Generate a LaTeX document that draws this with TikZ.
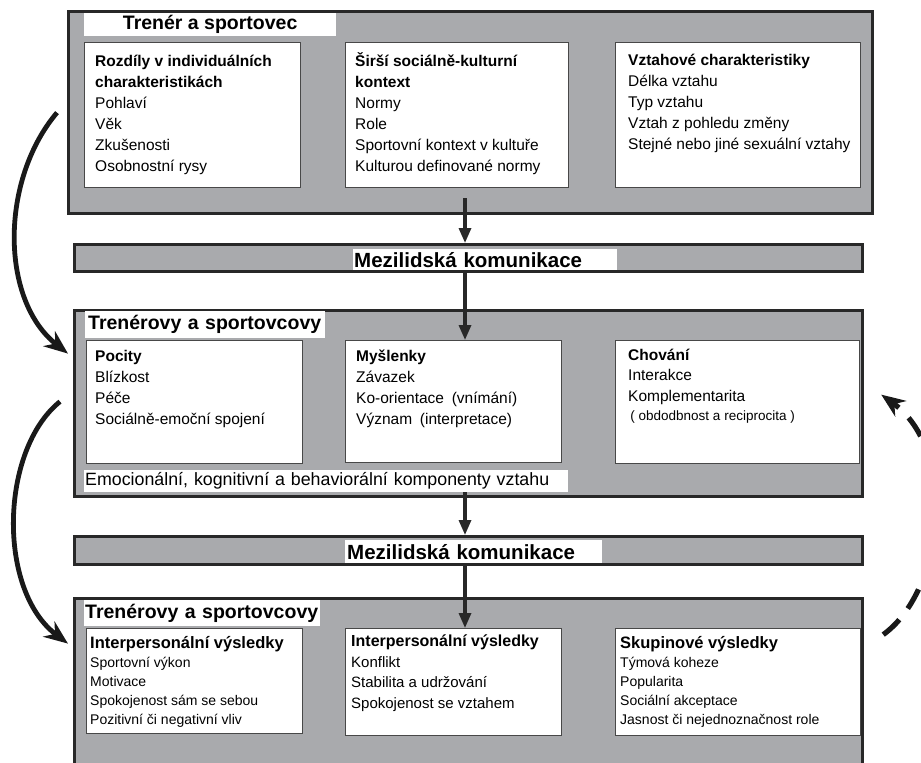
\documentclass[tikz,border=0pt]{standalone}
\usepackage{fontspec}
\setmainfont{Liberation Sans}
\usetikzlibrary{arrows.meta}
\definecolor{panelgray}{RGB}{169,170,173}
\definecolor{edgegray}{RGB}{40,40,40}
\tikzset{
  panel/.style={draw=edgegray, line width=3.2pt, fill=panelgray, anchor=north west, inner sep=0},
  inbox/.style={draw=edgegray!85, line width=1.4pt, fill=white, anchor=north west, inner sep=0},
  caption/.style={fill=white, anchor=north west, inner sep=1pt, font=\bfseries\fontsize{19.5}{22}\selectfont},
  barlabel/.style={fill=white, anchor=north west, inner sep=1pt, align=left, font=\bfseries\fontsize{20.5}{22}\selectfont},
  itemtext/.style={anchor=north west, inner sep=0, align=left},
  flow/.style={draw=edgegray, line width=3.2pt, -{Triangle[length=15pt,width=12pt]}},
  loopback/.style={draw=black!90, line width=4.8pt, -{Stealth[length=24pt,width=19pt]}},
  feedback/.style={draw=black!90, line width=5.2pt, dash pattern=on 22pt off 14pt, -{Stealth[length=24pt,width=19pt]}}
}
\begin{document}
\begin{tikzpicture}[x=1pt,y=-1pt]
\useasboundingbox (0,0) rectangle (921,763);

% panels
\node[panel, minimum width=804, minimum height=202] (trener) at (67,10) {};
\node[panel, minimum width=788, minimum height=27] (komA) at (73,243) {};
\node[panel, minimum width=788, minimum height=186] (vztahy) at (73,309) {};
\node[panel, minimum width=788, minimum height=28] (komB) at (73,535) {};
\node[panel, minimum width=788, minimum height=178] (vysledky) at (73,597) {};

% captions
\node[caption, minimum width=252, minimum height=23] (trenerT) at (84,13) {Trenér a sportovec};
\node[barlabel, text width=262, minimum height=21] (komAT) at (353,249) {Mezilidská komunikace};
\node[caption, text width=238, align=left, minimum height=27] (vztahyT) at (85,311) {\mbox{\kern2pt Trenérovy a sportovcovy}};
\node[itemtext, fill=white, inner sep=1pt, text width=482, minimum height=22, font=\fontsize{17.8}{20}\selectfont] (emoc) at (84,470) {Emocionální, kognitivní a behaviorální komponenty vztahu};
\node[barlabel, text width=255, minimum height=23] (komBT) at (345,540) {\kern1pt Mezilidská komunikace};
\node[caption, text width=234, align=left, minimum height=26] (vysledkyT) at (84,600) {\mbox{Trenérovy a sportovcovy}};

% top row
\node[inbox, minimum width=216, minimum height=145] (ind) at (84,42) {};
\node[inbox, minimum width=223, minimum height=145] (kontext) at (345,42) {};
\node[inbox, minimum width=245, minimum height=145] (vztah) at (615,42) {};
\node[itemtext, font=\fontsize{15.5}{21}\selectfont] (indT) at (95,51.3) {\strut\textbf{Rozdíly v individuálních}\\\textbf{charakteristikách}\\Pohlaví\\Věk\\Zkušenosti\\Osobnostní rysy};
\node[itemtext, font=\fontsize{15.5}{21}\selectfont] (kontextT) at (355,51.3) {\strut\textbf{Širší sociálně-kulturní}\\\textbf{kontext}\\Normy\\Role\\Sportovní kontext v kultuře\\Kulturou definované normy};
\node[itemtext, font=\fontsize{15.5}{21}\selectfont] (vztahT) at (628,50.3) {\strut\textbf{Vztahové charakteristiky}\\Délka vztahu\\Typ vztahu\\Vztah z pohledu změny\\Stejné nebo jiné sexuální vztahy};

% middle row
\node[inbox, minimum width=216, minimum height=123] (pocity) at (86,340) {};
\node[inbox, minimum width=216, minimum height=122] (mysl) at (345,340) {};
\node[inbox, minimum width=244, minimum height=123] (chovani) at (615,340) {};
\node[itemtext, font=\fontsize{15.5}{21}\selectfont] (pocityT) at (95,346.3) {\strut\textbf{Pocity}\\Blízkost\\Péče\\Sociálně-emoční spojení};
\node[itemtext, font=\fontsize{15.5}{21}\selectfont] (myslT) at (356,346.3) {\strut\textbf{Myšlenky}\\Závazek\\Ko-orientace\enspace(vnímání)\\Význam\enspace(interpretace)};
\node[itemtext, font=\fontsize{15.5}{20.5}\selectfont] (chovaniT) at (628,345.6) {\strut\textbf{Chování}\\Interakce\\Komplementarita\\[-1.5pt]{\fontsize{13.5}{15}\selectfont\,( obdodbnost a reciprocita )}};

% bottom row
\node[inbox, minimum width=216, minimum height=105] (osobni) at (86,628) {};
\node[inbox, minimum width=216, minimum height=107] (vztahove) at (345,628) {};
\node[inbox, minimum width=245, minimum height=107] (skupina) at (615,628) {};
\node[itemtext, font=\fontsize{14}{19}\selectfont] (osobniT) at (90,634.7) {\strut{\bfseries\fontsize{16.5}{19}\selectfont Interpersonální výsledky}\\Sportovní výkon\\Motivace\\Spokojenost sám se sebou\\Pozitivní či negativní vliv};
\node[itemtext, font=\fontsize{15}{20.5}\selectfont] (vztahoveT) at (351,632.3) {\strut{\bfseries\fontsize{16}{19}\selectfont Interpersonální výsledky}\\Konflikt\\Stabilita a udržování\\Spokojenost se vztahem};
\node[itemtext, font=\fontsize{14}{19}\selectfont] (skupinaT) at (620,635) {\strut{\bfseries\fontsize{16.5}{19}\selectfont Skupinové výsledky}\\Týmová koheze\\Popularita\\Sociální akceptace\\Jasnost či nejednoznačnost role};

% arrows down the middle
\coordinate (osa) at (465,0);
\draw[flow] ([yshift=17pt]osa |- trener.south) -- (osa |- komA.north);
\draw[flow] (osa |- komA.south) -- (osa |- mysl.north);
\draw[flow] (osa |- emoc.south) -- (osa |- komB.north);
\draw[flow] (osa |- komB.south) -- (osa |- vztahove.north);

% arrows round the side
\draw[loopback] ([xshift=-10pt]trener.west) .. controls (0,180) and (0,300) .. ([shift={(-5,-50)}]vztahy.west);
\draw[loopback] ([shift={(-13,-2)}]vztahy.west) .. controls (0,450) and (-3,590) .. ([shift={(-5,-44)}]vysledky.west);
\draw[feedback] ([shift={(19,-53)}]vysledky.east) .. controls (945,590) and (958,450) .. ([shift={(17,-9)}]vztahy.east);
\end{tikzpicture}
\end{document}
